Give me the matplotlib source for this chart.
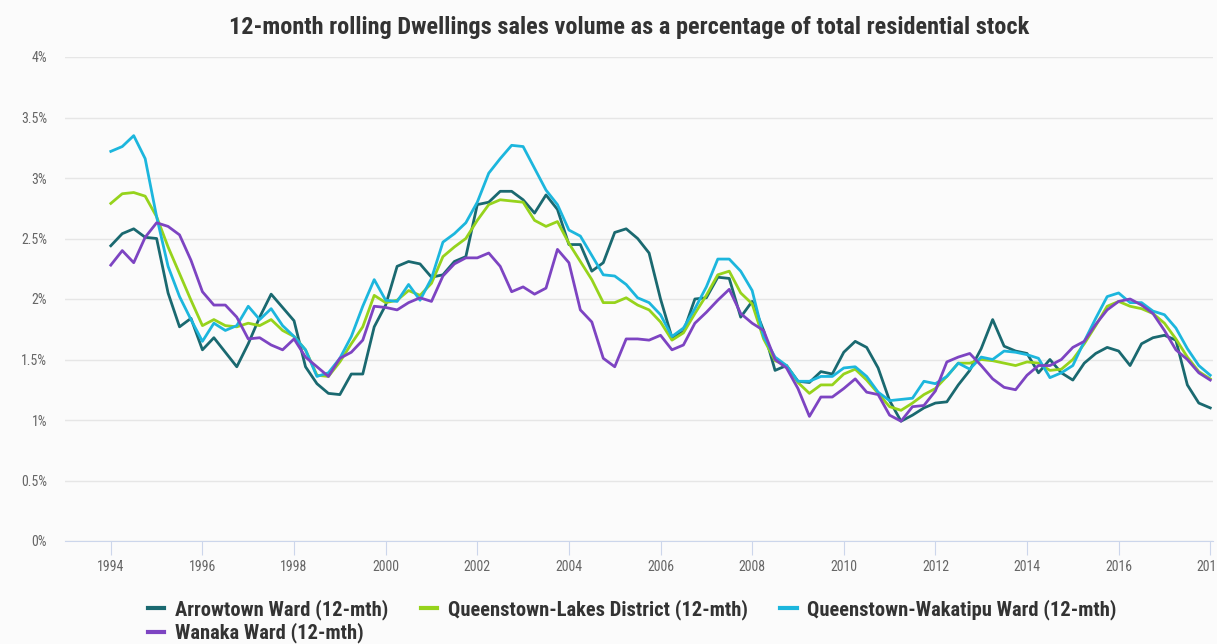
import numpy as np
import matplotlib
matplotlib.use("Agg")
import matplotlib.pyplot as plt
from matplotlib import font_manager

# quarterly points, 1994 Q1 .. 2018 Q1
years = np.arange(1994.0, 2018.01, 0.25)

arrowtown = [
    2.44, 2.54, 2.58, 2.51, 2.50, 2.05, 1.77, 1.84, 1.58, 1.68, 1.56, 1.44,
    1.63, 1.85, 2.04, 1.93, 1.82, 1.44, 1.30, 1.22, 1.21, 1.38, 1.38, 1.77,
    1.95, 2.27, 2.31, 2.29, 2.18, 2.20, 2.31, 2.35, 2.78, 2.80, 2.89, 2.89,
    2.82, 2.71, 2.86, 2.74, 2.45, 2.45, 2.23, 2.30, 2.55, 2.58, 2.50, 2.38,
    2.00, 1.68, 1.73, 2.00, 2.01, 2.18, 2.17, 1.85, 1.98, 1.74, 1.41, 1.45,
    1.32, 1.31, 1.40, 1.38, 1.56, 1.65, 1.60, 1.43, 1.16, 0.99, 1.04, 1.10,
    1.14, 1.15, 1.29, 1.41, 1.59, 1.83, 1.61, 1.57, 1.55, 1.39, 1.50, 1.39,
    1.33, 1.47, 1.55, 1.60, 1.57, 1.45, 1.63, 1.68, 1.70, 1.66, 1.29, 1.14,
    1.10,
]
lakes = [
    2.79, 2.87, 2.88, 2.85, 2.68, 2.43, 2.21, 1.99, 1.78, 1.83, 1.78, 1.77,
    1.80, 1.78, 1.83, 1.74, 1.69, 1.58, 1.37, 1.36, 1.48, 1.63, 1.77, 2.03,
    1.97, 1.99, 2.07, 2.03, 2.13, 2.35, 2.43, 2.50, 2.65, 2.78, 2.82, 2.81,
    2.80, 2.65, 2.60, 2.64, 2.46, 2.31, 2.16, 1.97, 1.97, 2.01, 1.95, 1.91,
    1.81, 1.66, 1.72, 1.88, 2.03, 2.20, 2.23, 2.05, 1.96, 1.67, 1.49, 1.45,
    1.31, 1.22, 1.29, 1.29, 1.38, 1.42, 1.33, 1.22, 1.11, 1.08, 1.14, 1.21,
    1.26, 1.36, 1.47, 1.47, 1.50, 1.49, 1.47, 1.45, 1.48, 1.47, 1.41, 1.42,
    1.50, 1.63, 1.78, 1.94, 1.98, 1.94, 1.92, 1.88, 1.80, 1.67, 1.52, 1.40,
    1.34,
]
wakatipu = [
    3.22, 3.26, 3.35, 3.16, 2.68, 2.27, 2.02, 1.83, 1.65, 1.80, 1.74, 1.78,
    1.94, 1.83, 1.92, 1.78, 1.69, 1.58, 1.36, 1.39, 1.51, 1.69, 1.94, 2.16,
    1.99, 1.98, 2.12, 1.99, 2.17, 2.47, 2.54, 2.63, 2.80, 3.04, 3.16, 3.27,
    3.26, 3.08, 2.90, 2.78, 2.57, 2.52, 2.36, 2.20, 2.19, 2.12, 2.01, 1.97,
    1.87, 1.69, 1.76, 1.92, 2.10, 2.33, 2.33, 2.23, 2.07, 1.69, 1.52, 1.45,
    1.32, 1.32, 1.36, 1.36, 1.43, 1.44, 1.36, 1.23, 1.16, 1.17, 1.18, 1.32,
    1.30, 1.36, 1.47, 1.42, 1.52, 1.50, 1.57, 1.56, 1.54, 1.51, 1.35, 1.39,
    1.45, 1.65, 1.84, 2.02, 2.05, 1.97, 1.97, 1.90, 1.87, 1.76, 1.59, 1.45,
    1.37,
]
wanaka = [
    2.28, 2.40, 2.30, 2.51, 2.63, 2.60, 2.53, 2.32, 2.06, 1.95, 1.95, 1.85,
    1.67, 1.68, 1.62, 1.58, 1.67, 1.52, 1.44, 1.36, 1.51, 1.56, 1.66, 1.94,
    1.93, 1.91, 1.97, 2.01, 1.98, 2.19, 2.29, 2.34, 2.34, 2.38, 2.27, 2.06,
    2.10, 2.04, 2.09, 2.41, 2.30, 1.91, 1.81, 1.51, 1.44, 1.67, 1.67, 1.66,
    1.70, 1.58, 1.62, 1.80, 1.89, 1.99, 2.08, 1.88, 1.80, 1.74, 1.50, 1.43,
    1.26, 1.03, 1.19, 1.19, 1.26, 1.34, 1.23, 1.21, 1.04, 0.99, 1.11, 1.12,
    1.24, 1.48, 1.52, 1.55, 1.45, 1.34, 1.27, 1.25, 1.37, 1.45, 1.45, 1.50,
    1.60, 1.65, 1.79, 1.91, 1.98, 2.00, 1.95, 1.88, 1.74, 1.58, 1.50, 1.39,
    1.33,
]

series_names = [
    "Arrowtown Ward (12-mth)",
    "Queenstown-Lakes District (12-mth)",
    "Queenstown-Wakatipu Ward (12-mth)",
    "Wanaka Ward (12-mth)",
]
series_colors = ["#1a6970", "#96d31c", "#1cb6dd", "#7d44c2"]

x_ticks = np.arange(1994, 2019, 2)
y_ticks = np.arange(0, 4.01, 0.5)

# pick a narrow-ish face if one is there
names = {f.name for f in font_manager.fontManager.ttflist}
face = next((n for n in ["Roboto Condensed", "Open Sans Condensed", "Liberation Sans Narrow", "Lato"]
             if n in names), "DejaVu Sans")
plt.rcParams["font.family"] = [face, "DejaVu Sans"]

fig = plt.figure(figsize=(12.17, 6.44), dpi=100, facecolor="#fbfbfb")
ax = fig.add_axes([65 / 1217, 103 / 644, 1148 / 1217, 484 / 644])
ax.set_facecolor("#fbfbfb")

lines = []
for vals, name, col in zip([arrowtown, lakes, wakatipu, wanaka], series_names, series_colors):
    ln, = ax.plot(years, vals, color=col, lw=2.0, label=name, solid_joinstyle="round")
    lines.append(ln)

ax.set_xlim(1993.0, 2018.06)
ax.set_ylim(0, 4)
ax.set_yticks(y_ticks)
ax.set_yticklabels([f"{v:g}%" for v in y_ticks])
ax.set_xticks(x_ticks)
ax.set_xticklabels([str(v) for v in x_ticks])
ax.grid(axis="y", color="#e6e6e6", lw=1)
ax.set_axisbelow(True)
for s in ["top", "right", "left"]:
    ax.spines[s].set_visible(False)
ax.spines["bottom"].set_color("#ccd6eb")
ax.tick_params(axis="y", length=0, pad=13, labelsize=10, labelcolor="#666666")
ax.tick_params(axis="x", length=10, color="#ccd6eb", pad=4, labelsize=10, labelcolor="#666666")
for t in ax.get_xticklabels():
    t.set_clip_on(False)

fig.text(0.517, 0.958, "12-month rolling Dwellings sales volume as a percentage of total residential stock",
         ha="center", va="center", fontsize=17.5, color="#333333", fontweight="bold")

# order so that ncol=3 reads row-wise like the original
order = [0, 3, 1, 2]
leg = fig.legend([lines[i] for i in order], [series_names[i] for i in order],
                 loc="upper left", bbox_to_anchor=(148 / 1217, 1 - 599 / 644), ncol=3,
                 frameon=False, handlelength=0.8, handletextpad=0.5, columnspacing=1.6,
                 labelspacing=0.15, borderpad=0, borderaxespad=0,
                 prop={"weight": "bold", "size": 14.8})
for t in leg.get_texts():
    t.set_color("#333333")
for h in leg.legend_handles:
    h.set_linewidth(3)

fig.savefig("out.png", dpi=100, facecolor=fig.get_facecolor())
